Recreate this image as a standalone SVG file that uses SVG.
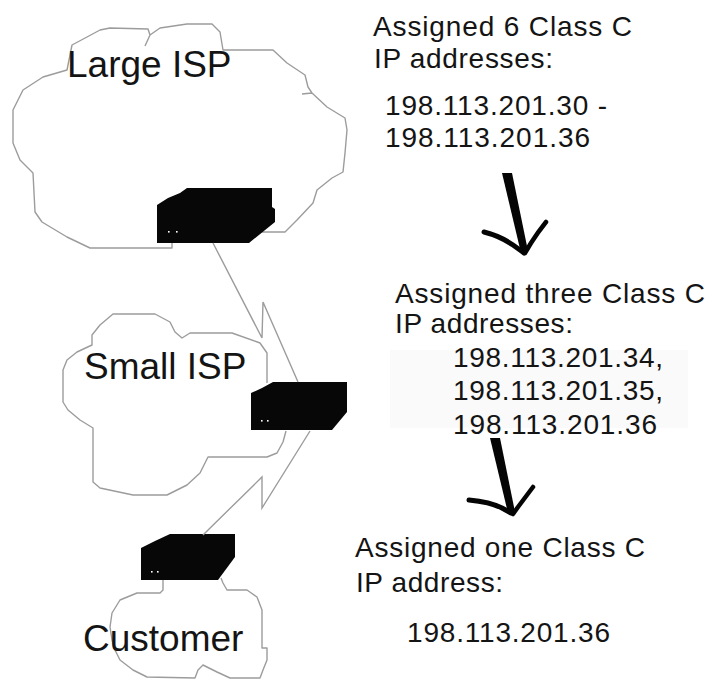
<svg xmlns="http://www.w3.org/2000/svg" width="708" height="682" viewBox="0 0 708 682">
  <style>
    .cloud { fill: none; stroke: #9c9c9c; stroke-width: 1.4; stroke-linejoin: round; }
    .link { fill: none; stroke: #9c9c9c; stroke-width: 1.4; stroke-linejoin: miter; }
    .router { fill: #070707; }
    .led { fill: #ffffff; }
    .label { font-family: "Liberation Sans", Arial, sans-serif; font-size: 37px; fill: #141414; }
    .note { font-family: "Liberation Sans", Arial, sans-serif; font-size: 28px; fill: #141414; }
    .pen { fill: none; stroke: #050505; stroke-linecap: round; stroke-linejoin: round; }
  </style>
  <rect width="708" height="682" fill="#ffffff"/>

  <!-- Large ISP -->
  <g id="large-isp">
    <path class="cloud" d="M172,243 L172,248 L90,248 L67,237 L42,222 L35,212 L33,173 L20,160 L13,143 L13,110 L23,90 L43,77 L67,70 L72,45 L87,37 L100,30 L110,28 L148,29 L150,35 L145,46 M150,35 L160,28 L187,24 L212,24 L220,32 L223,50 L273,50 L287,63 L305,75 L308,87 L312,93 L327,107 L345,118 L347,130 L345,153 L343,172 L332,178 L317,190 L313,203 L297,220 L285,232 L262,232 M302,94 L312,93"/>
    <text class="label" x="67" y="77">Large ISP</text>
  </g>

  <!-- Small ISP -->
  <g id="small-isp">
    <path class="cloud" d="M267,383 L267,353 L260,343 L232,333 L190,333 L182,338 L175,332 L170,322 L155,314 L113,314 L100,325 L92,335 L92,345 L77,352 L67,360 L63,370 L63,402 L68,410 L80,420 L93,428 L93,482 L100,488 L133,495 L167,495 L187,485 L200,473 L208,457 L267,457 L277,453 L283,442 L286,431"/>
    <text class="label" x="84" y="379">Small ISP</text>
  </g>

  <!-- Customer -->
  <g id="customer">
    <path class="cloud" d="M163,580 L163,590 L160,593 L137,593 L120,600 L112,613 L110,627 L112,640 L115,650 L120,660 L133,670 L147,677 L195,678 L198,670 L203,665 L217,672 L230,678 L260,678 L263,670 L267,660 L267,648 L262,648 L262,610 L257,597 L247,590 L227,590 L223,583 L221,578"/>
    <text class="label" x="83" y="651">Customer</text>
  </g>

  <!-- Routers -->
  <g id="router-large">
    <polygon class="router" points="157,205 168,198 180,193 187,188 272,188 272,207 275,209 275,222 249,243 157,243"/>
    <rect class="led" x="168" y="231" width="1.6" height="1.6"/>
    <rect class="led" x="176" y="231" width="1.6" height="1.6"/>
  </g>
  <g id="router-small">
    <polygon class="router" points="251,393 262,388 273,382 347,382 347,412 332,430 251,430"/>
    <rect class="led" x="261" y="420" width="1.6" height="1.6"/>
    <rect class="led" x="267" y="420" width="1.6" height="1.6"/>
  </g>
  <g id="router-customer">
    <polygon class="router" points="141,548 155,541 170,534 235,534 235,557 218,580 141,580"/>
    <rect class="led" x="151" y="571" width="1.6" height="1.6"/>
    <rect class="led" x="157" y="571" width="1.6" height="1.6"/>
  </g>

  <!-- Address notes -->
  <g id="note-large">
    <text class="note" x="373" y="36" textLength="259" lengthAdjust="spacing">Assigned 6 Class C</text>
    <text class="note" x="374" y="68" textLength="179" lengthAdjust="spacing">IP addresses:</text>
    <text class="note" x="385" y="115" textLength="222" lengthAdjust="spacing">198.113.201.30 -</text>
    <text class="note" x="385" y="147" textLength="205" lengthAdjust="spacing">198.113.201.36</text>
  </g>
  <g id="note-small">
    <rect x="390" y="350" width="298" height="78" fill="#fafafa"/>
    <text class="note" x="395" y="303" textLength="310" lengthAdjust="spacing">Assigned three Class C</text>
    <text class="note" x="395" y="333" textLength="178" lengthAdjust="spacing">IP addresses:</text>
    <text class="note" x="453" y="367" textLength="210" lengthAdjust="spacing">198.113.201.34,</text>
    <text class="note" x="453" y="400" textLength="210" lengthAdjust="spacing">198.113.201.35,</text>
    <text class="note" x="453" y="434" textLength="204" lengthAdjust="spacing">198.113.201.36</text>
  </g>
  <g id="note-customer">
    <text class="note" x="355" y="557" textLength="290" lengthAdjust="spacing">Assigned one Class C</text>
    <text class="note" x="356" y="592" textLength="147" lengthAdjust="spacing">IP address:</text>
    <text class="note" x="407" y="642" textLength="203" lengthAdjust="spacing">198.113.201.36</text>
  </g>

  <!-- Connectors: lightning links between routers, hand-drawn arrows between notes -->
  <g id="connectors">
    <polyline class="link" points="213,243 262,338 263,302 298,382"/>
    <polyline class="link" points="310,431 262,508 262,477 203,535"/>

    <polygon fill="#050505" points="502,173 512,173 528,251 521,253"/>
    <path class="pen" stroke-width="5" d="M484,232 Q500,236 513,245 Q520,250 524,253"/>
    <path class="pen" stroke-width="4.5" d="M546,222 Q538,232 531,243 L525,253"/>

    <polygon fill="#050505" points="490,438 500,438 515,512 508,513"/>
    <path class="pen" stroke-width="5" d="M469,500 Q490,502 502,508 L511,513"/>
    <path class="pen" stroke-width="4.5" d="M533,487 Q524,499 518,507 L513,514"/>
  </g>
</svg>
